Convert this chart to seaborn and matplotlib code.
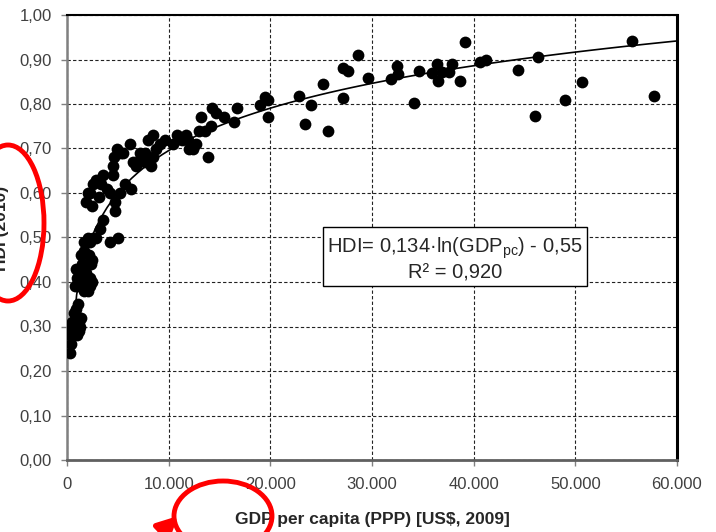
import numpy as np
import matplotlib
matplotlib.use("Agg")
import matplotlib.pyplot as plt
from matplotlib.patches import Ellipse
from matplotlib.ticker import FuncFormatter, MultipleLocator
import seaborn as sns

# GDP per capita (PPP, US$ 2009) and HDI (2010)
gdp = [250, 400, 300, 450, 600, 350, 700, 900, 1100, 1300, 500, 800, 1000, 1200,
       650, 900, 1100, 750, 1400, 550, 1000, 1200,
       800, 1000, 1200, 1500, 1700, 2100, 2300, 1300, 1600, 1900, 2300, 2500,
       900, 1200, 1500, 1800, 2100, 2400, 1000, 1400, 1700, 2200, 2500, 2000,
       1700, 2100, 2300, 2600, 4200, 5000, 3200, 3500, 2900,
       1900, 2500, 2100, 2600, 2900, 3500, 3900, 4200, 4700, 4700, 5200, 5700,
       6300, 4500, 2300, 3100, 3300,
       4500, 4600, 4900, 5500, 6200, 6800, 7300, 7700, 8000, 8300, 7700, 8000,
       8500, 9100, 9600, 10400, 10800, 7200, 6500, 5300, 8800, 8500,
       11300, 11700, 11900, 12400, 12700, 13000, 13200, 13900, 14200, 14300,
       15400, 16400, 16700, 12000, 13600, 14700,
       18980, 19470, 19760, 19760, 22810, 23400, 23960, 25140, 25630, 27110,
       27170, 27660, 28640, 29630, 31830, 32420, 32580, 34150, 34610, 35860,
       36350, 36450, 36840, 37560, 37890, 38640, 39170, 40610, 41200, 44380,
       46020, 46340, 48970, 50610, 55590, 57750]
hdi = [0.24, 0.26, 0.28, 0.29, 0.29, 0.30, 0.30, 0.30, 0.29, 0.30, 0.31, 0.31, 0.32, 0.31,
       0.33, 0.34, 0.35, 0.33, 0.32, 0.28, 0.28, 0.29,
       0.39, 0.39, 0.40, 0.39, 0.38, 0.38, 0.39, 0.41, 0.42, 0.42, 0.41, 0.40,
       0.43, 0.43, 0.44, 0.43, 0.44, 0.44, 0.41, 0.46, 0.47, 0.46, 0.45, 0.40,
       0.49, 0.50, 0.49, 0.50, 0.49, 0.50, 0.52, 0.54, 0.50,
       0.58, 0.57, 0.60, 0.62, 0.63, 0.64, 0.61, 0.60, 0.58, 0.56, 0.60, 0.62,
       0.61, 0.64, 0.60, 0.59, 0.62,
       0.66, 0.68, 0.70, 0.69, 0.71, 0.66, 0.68, 0.67, 0.67, 0.66, 0.69, 0.72,
       0.73, 0.71, 0.72, 0.71, 0.73, 0.69, 0.67, 0.69, 0.70, 0.68,
       0.72, 0.73, 0.72, 0.70, 0.71, 0.74, 0.77, 0.68, 0.75, 0.79,
       0.77, 0.76, 0.79, 0.70, 0.74, 0.78,
       0.798, 0.816, 0.809, 0.771, 0.819, 0.755, 0.798, 0.844, 0.739, 0.813,
       0.880, 0.874, 0.910, 0.858, 0.856, 0.886, 0.867, 0.803, 0.874, 0.869,
       0.889, 0.852, 0.873, 0.873, 0.891, 0.852, 0.940, 0.894, 0.899, 0.876,
       0.773, 0.905, 0.808, 0.849, 0.942, 0.819]

sns.set_style("white")
plt.rcParams["font.family"] = ["Liberation Sans", "DejaVu Sans"]
plt.rcParams["mathtext.default"] = "regular"

fig = plt.figure(figsize=(7.16, 5.32), dpi=100)
ax = fig.add_axes([67 / 716, 72 / 532, 610 / 716, 445 / 532])

sns.scatterplot(x=gdp, y=hdi, color="black", s=72, linewidth=0, ax=ax, zorder=3)

# logarithmic trend line fitted by seaborn, drawn out to the right edge
ax.set_xlim(350, 60000)
sns.regplot(x=np.array(gdp, dtype=float), y=np.array(hdi), logx=True, ci=None,
            scatter=False, truncate=False, color="black",
            line_kws={"lw": 1.2, "zorder": 4}, ax=ax)

ax.set_xlim(0, 60000)
ax.set_ylim(0, 1.0)
ax.xaxis.set_major_locator(MultipleLocator(10000))
ax.yaxis.set_major_locator(MultipleLocator(0.1))
ax.xaxis.set_major_formatter(FuncFormatter(lambda v, p: f"{int(round(v)):,}".replace(",", ".")))
ax.yaxis.set_major_formatter(FuncFormatter(lambda v, p: f"{v:.2f}".replace(".", ",")))

ax.grid(True, linestyle=(0, (3, 2)), color="#222222", lw=0.8)
ax.set_axisbelow(True)
ax.tick_params(axis="both", which="major", direction="out", length=4, width=1,
               color="#808080", labelsize=12, labelcolor="#404040",
               bottom=True, left=True)
ax.tick_params(axis="x", pad=8)
ax.tick_params(axis="y", pad=7)

ax.spines["left"].set_color("#808080")
ax.spines["left"].set_linewidth(1.8)
ax.spines["bottom"].set_color("#606060")
ax.spines["bottom"].set_linewidth(2)
ax.spines["right"].set_color("black")
ax.spines["right"].set_linewidth(2.2)
ax.spines["top"].set_color("black")
ax.spines["top"].set_linewidth(1.5)

ax.set_xlabel("GDP per capita (PPP) [US$, 2009]", fontsize=12.5, fontweight="bold")
ax.xaxis.set_label_coords(0.5, -0.116)
ax.set_ylabel("HDI (2010)", fontsize=12.5, fontweight="bold")
ax.yaxis.set_label_coords(-0.095, 0.52)

ax.text(0.636, 0.452, "HDI= 0,134·ln(GDP$_{pc}$) - 0,55\nR² = 0,920",
        transform=ax.transAxes, ha="center", va="center", multialignment="center",
        fontsize=14.5, zorder=6, linespacing=1.15,
        bbox=dict(boxstyle="square,pad=0.2", facecolor="white", edgecolor="black", lw=1))

# red hand-drawn style highlights
W, H = 716, 532
e1 = Ellipse((8 / W, (H - 223) / H), 72 / W, 156 / H, transform=fig.transFigure,
             fill=False, edgecolor="red", lw=3.5, clip_on=False)
e2 = Ellipse((223 / W, (H - 516) / H), 98 / W, 70 / H, transform=fig.transFigure,
             fill=False, edgecolor="red", lw=3.5, clip_on=False)
fig.add_artist(e1)
fig.add_artist(e2)
ax.annotate("", xy=(178, H - 516), xycoords="figure pixels",
            xytext=(130, -30), textcoords="figure pixels",
            arrowprops=dict(arrowstyle="-|>", color="red", lw=4, mutation_scale=30,
                            shrinkA=0, shrinkB=0),
            annotation_clip=False)

fig.savefig("out.png", dpi=100)
